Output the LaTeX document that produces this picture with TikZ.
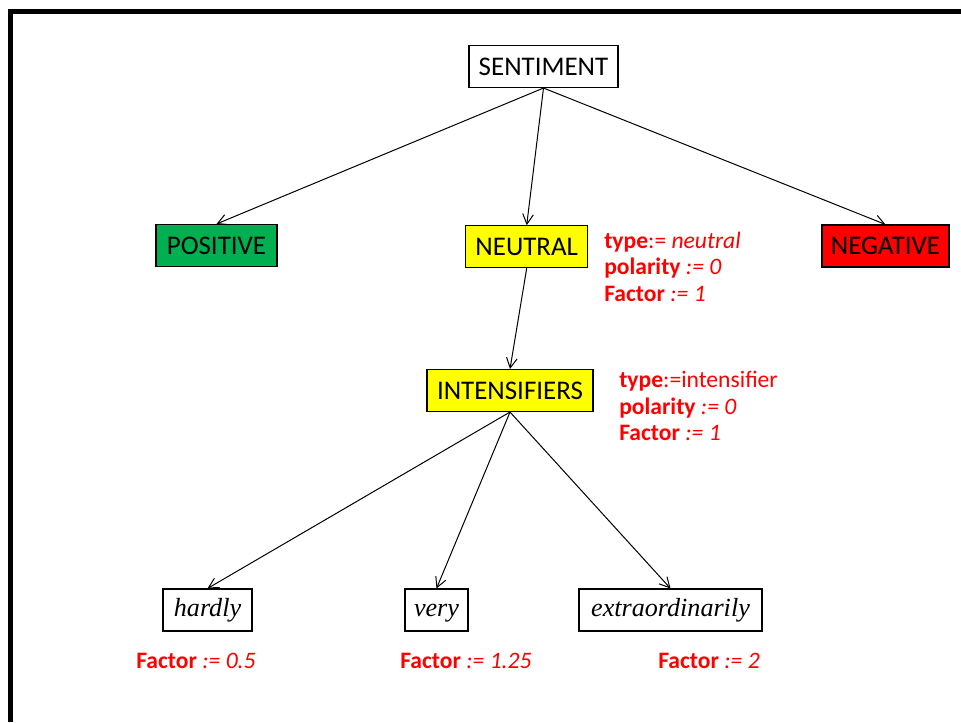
\documentclass[tikz,border=0pt]{standalone}
\usepackage{fontspec}
\setmainfont{Carlito}
\newfontfamily\timesfont{Liberation Serif}
\usetikzlibrary{arrows.meta}
\definecolor{posgreen}{HTML}{00B050}
\definecolor{neggred}{HTML}{FF0000}
\definecolor{neutyellow}{HTML}{FFFF00}
\definecolor{infored}{HTML}{FF0000}
\tikzset{
  box/.style={draw=black, line width=0.8pt, inner xsep=0pt, inner ysep=0pt,
    minimum height=31.5pt, text height=13.2pt, text depth=0pt,
    font=\fontsize{20.2}{22}\selectfont},
  wordbox/.style={draw=black, line width=0.8pt, inner xsep=0pt, inner ysep=0pt,
    minimum height=31.5pt, text height=13.2pt, text depth=4.2pt,
    font=\timesfont\itshape\fontsize{19.6}{22}\selectfont},
  info/.style={anchor=base west, inner sep=0pt, text=infored,
    font=\fontsize{17.7}{20}\selectfont},
  link/.style={line width=0.75pt, -{Straight Barb[length=7.5pt,width=8pt,line width=0.75pt]}},
}
\begin{document}
\begin{tikzpicture}[x=0.75pt, y=-0.75pt]
  \useasboundingbox (0,0) rectangle (961,722);
  % frame along the top and left edges
  \draw[line width=3.6pt, line join=miter] (10.5,722) -- (10.5,11.5) -- (961,11.5);

  % category boxes
  \node[box, minimum width=111.75pt] (sent) at (543.5,66.5) {SENTIMENT};
  \node[box, fill=posgreen, minimum width=90.75pt] (pos) at (216.5,245.5) {POSITIVE};
  \node[box, fill=neutyellow, minimum width=91.5pt] (neut) at (526.7,246.7) {NEUTRAL};
  \node[box, fill=neggred, minimum width=95.25pt] (neg) at (885.5,246) {NEGATIVE};
  \node[box, fill=neutyellow, minimum width=124.5pt] (intens) at (510,390.5) {INTENSIFIERS};

  % intensifier words
  \node[wordbox, minimum width=66.75pt] (hardly) at (207.5,610) {hardly};
  \node[wordbox, minimum width=47.25pt] (very) at (436.5,610) {very};
  \node[wordbox, minimum width=137.25pt] (extra) at (670.5,610) {extraordinarily};

  % connectors
  \draw[link] (sent.south) -- (pos.north);
  \draw[link] (sent.south) -- (neut.north);
  \draw[link] (sent.south) -- (neg.north);
  \draw[link] (neut.south) -- (intens.north);
  \draw[link] (intens.south) -- (hardly.north);
  \draw[link] (intens.south) -- (very.north);
  \draw[link] (intens.south) -- (extra.north);

  % attributes of NEUTRAL
  \node[info] (neuttype) at (604,248) {\textbf{type}:= \textit{neutral}};
  \node[info] (neutpol) at (604,274.5) {\textbf{polarity} \textit{:= 0}};
  \node[info] (neutfac) at (604,301) {\textbf{Factor} \textit{:= 1}};

  % attributes of INTENSIFIERS
  \node[info] (intype) at (619,387.7) {\textbf{type}:=intensifier};
  \node[info] (inpol) at (619,414) {\textbf{polarity} \textit{:= 0}};
  \node[info] (infac) at (619,440) {\textbf{Factor} \textit{:= 1}};

  % factors of the words
  \node[info] (hardlyfac) at (136,668.5) {\textbf{Factor} \textit{:= 0.5}};
  \node[info] (veryfac) at (400,668.5) {\textbf{Factor} \textit{:= 1.25}};
  \node[info] (extrafac) at (658,668.5) {\textbf{Factor} \textit{:= 2}};
\end{tikzpicture}
\end{document}
